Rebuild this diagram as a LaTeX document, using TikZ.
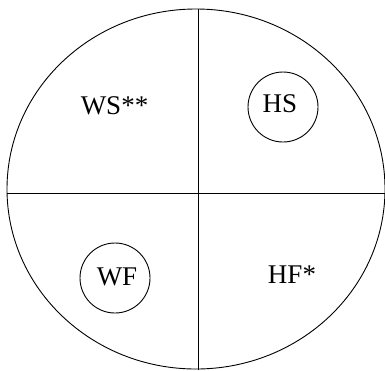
\documentclass[tikz,border=0pt]{standalone}
\usepackage{fontspec}
\setmainfont{Liberation Serif}
\usetikzlibrary{shapes.geometric}
\begin{document}
\begin{tikzpicture}[x=1pt,y=-1pt,
  lbl/.style={font=\fontsize{27}{27}\selectfont, inner sep=0pt},
  ln/.style={line width=0.9pt},
  ring/.style={draw, ln, circle, minimum size=70pt, inner sep=0pt}]
\useasboundingbox (0,0) rectangle (385,370);
\node[draw, ln, ellipse, minimum width=378pt, minimum height=360pt, inner sep=0pt] (big) at (196,189) {};
\coordinate (t) at (198,9);
\coordinate (b) at (198,370);
\coordinate (l) at (7,193);
\coordinate (r) at (385,193);
\draw[ln] (t) -- (b);
\draw[ln] (l) -- (r);
\node[ring] (hsc) at (283,107) {};
\node[lbl] (hs) at (280,104) {HS};
\node[ring] (wfc) at (115,278) {};
\node[lbl] (wf) at (117,277) {WF};
\node[lbl] (ws) at (114.5,106) {WS**};
\node[lbl] (hf) at (292,275) {HF*};
\end{tikzpicture}
\end{document}
